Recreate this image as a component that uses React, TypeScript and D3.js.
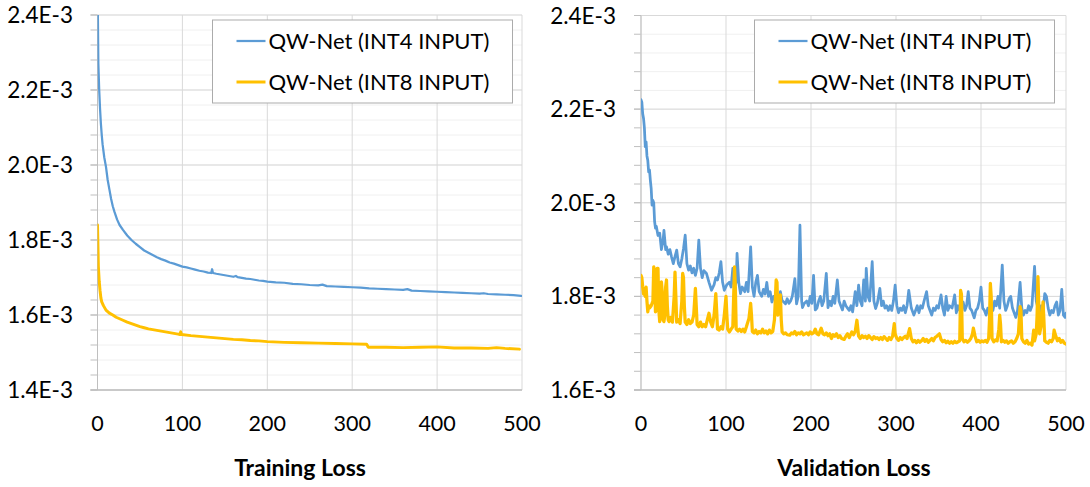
import React from 'react';
import * as d3 from 'd3';

// values are in units of 1E-3 as [epoch, loss]
const seriesNames = ['QW-Net (INT4 INPUT)', 'QW-Net (INT8 INPUT)'];
const seriesColors = ['#5B9BD5', '#FFC000'];
const xTicks = [0, 100, 200, 300, 400, 500];
const trainYTicks = [1.4, 1.6, 1.8, 2.0, 2.2, 2.4];
const valYTicks = [1.6, 1.8, 2.0, 2.2, 2.4];
const titles = ['Training Loss', 'Validation Loss'];

const trainInt4: [number, number][] = [
  [0, 2.5], [1, 2.27], [2, 2.2], [3, 2.15], [4, 2.11], [5, 2.08], [6, 2.055], [8, 2.02], [10, 1.995],
  [12, 1.96], [14, 1.935], [16, 1.91], [18, 1.89], [20, 1.875], [23, 1.855], [26, 1.84], [30, 1.827],
  [35, 1.812], [40, 1.8], [45, 1.79], [50, 1.781], [55, 1.772], [60, 1.766], [65, 1.76], [70, 1.754],
  [75, 1.749], [80, 1.745], [85, 1.74], [90, 1.737], [95, 1.733], [100, 1.729], [105, 1.727], [110, 1.724],
  [115, 1.721], [120, 1.718], [125, 1.716], [130, 1.713], [134, 1.712], [135, 1.722], [136, 1.712],
  [140, 1.71], [145, 1.708], [150, 1.706], [155, 1.704], [160, 1.702], [163, 1.704], [165, 1.701], [170, 1.699],
  [175, 1.697], [180, 1.696], [185, 1.694], [190, 1.692], [195, 1.691], [200, 1.689], [210, 1.687],
  [220, 1.686], [230, 1.683], [240, 1.682], [250, 1.68], [260, 1.679], [265, 1.681], [270, 1.677], [280, 1.676],
  [290, 1.675], [300, 1.674], [310, 1.673], [320, 1.671], [330, 1.67], [340, 1.669], [350, 1.668],
  [360, 1.667], [365, 1.669], [370, 1.665], [380, 1.664], [390, 1.663], [400, 1.662], [410, 1.661], [420, 1.66],
  [430, 1.659], [440, 1.658], [450, 1.657], [455, 1.658], [460, 1.656], [470, 1.655], [480, 1.654], [490, 1.653],
  [499, 1.651],
];

const trainInt8: [number, number][] = [
  [0, 1.84], [1, 1.73], [2, 1.69], [3, 1.665], [4, 1.645], [5, 1.635], [7, 1.625], [10, 1.613],
  [14, 1.605], [18, 1.6], [22, 1.594], [26, 1.59], [30, 1.586], [35, 1.581], [40, 1.577], [45, 1.573],
  [50, 1.569], [55, 1.566], [60, 1.563], [65, 1.561], [70, 1.559], [75, 1.557], [80, 1.555], [85, 1.553],
  [90, 1.551], [95, 1.549], [97, 1.548], [98, 1.555], [99, 1.548], [110, 1.545], [120, 1.543],
  [130, 1.541], [140, 1.539], [150, 1.537], [160, 1.535], [170, 1.534], [180, 1.532], [190, 1.531],
  [200, 1.529], [220, 1.527], [240, 1.526], [260, 1.525], [280, 1.524], [300, 1.523], [317, 1.522],
  [319, 1.514], [340, 1.514], [360, 1.513], [380, 1.514], [400, 1.515], [420, 1.512], [440, 1.512],
  [460, 1.511], [470, 1.513], [480, 1.511], [497, 1.509],
];

const valInt4: [number, number][] = [
  [0, 2.22], [1, 2.215], [2, 2.19], [3, 2.18], [4, 2.16], [5, 2.12], [6, 2.13], [7, 2.1], [8, 2.09],
  [9, 2.066], [10, 2.07], [11, 2.048], [12, 2.03], [13, 1.995], [14, 2.005], [15, 2.0], [16, 1.96],
  [17, 1.946], [18, 1.95], [20, 1.93], [22, 1.935], [24, 1.9], [26, 1.92], [27, 1.941], [29, 1.9],
  [30, 1.906], [32, 1.89], [34, 1.9], [36, 1.884], [38, 1.87], [40, 1.885], [42, 1.899], [44, 1.87],
  [46, 1.863], [48, 1.88], [50, 1.902], [52, 1.931], [54, 1.87], [56, 1.856], [58, 1.865], [60, 1.85],
  [62, 1.86], [64, 1.845], [66, 1.86], [68, 1.92], [70, 1.86], [72, 1.84], [74, 1.855], [77, 1.849],
  [80, 1.83], [83, 1.813], [86, 1.825], [88, 1.84], [90, 1.835], [92, 1.85], [94, 1.874], [96, 1.83],
  [98, 1.813], [101, 1.825], [104, 1.83], [106, 1.82], [108, 1.86], [110, 1.82], [112, 1.83],
  [113, 1.892], [115, 1.83], [117, 1.806], [119, 1.82], [122, 1.81], [124, 1.83], [126, 1.81],
  [129, 1.906], [131, 1.82], [133, 1.8], [135, 1.83], [137, 1.845], [139, 1.81], [142, 1.8],
  [144, 1.815], [146, 1.805], [148, 1.83], [150, 1.8], [152, 1.81], [154, 1.788], [156, 1.8],
  [158, 1.795], [160, 1.8], [162, 1.79], [164, 1.81], [166, 1.791], [168, 1.788], [170, 1.784],
  [172, 1.795], [174, 1.785], [176, 1.79], [178, 1.8], [181, 1.838], [183, 1.784], [185, 1.8],
  [187, 1.952], [189, 1.79], [190, 1.776], [192, 1.785], [195, 1.79], [197, 1.78], [199, 1.8],
  [201, 1.785], [203, 1.845], [205, 1.771], [207, 1.775], [209, 1.79], [211, 1.8], [213, 1.78],
  [215, 1.79], [218, 1.849], [220, 1.776], [222, 1.79], [224, 1.78], [226, 1.8], [228, 1.785],
  [231, 1.835], [233, 1.79], [235, 1.78], [237, 1.771], [239, 1.79], [241, 1.78], [243, 1.775],
  [245, 1.77], [247, 1.78], [249, 1.767], [252, 1.81], [254, 1.78], [256, 1.824], [258, 1.79],
  [260, 1.78], [262, 1.835], [264, 1.79], [265, 1.86], [267, 1.8], [269, 1.79], [272, 1.874],
  [274, 1.79], [276, 1.774], [278, 1.785], [281, 1.817], [283, 1.78], [285, 1.79], [287, 1.775],
  [289, 1.78], [291, 1.77], [293, 1.78], [295, 1.77], [297, 1.79], [299, 1.824], [301, 1.78],
  [303, 1.765], [305, 1.775], [307, 1.77], [309, 1.78], [311, 1.765], [313, 1.78], [315, 1.813],
  [318, 1.775], [321, 1.76], [323, 1.77], [325, 1.78], [327, 1.765], [329, 1.78], [331, 1.775],
  [333, 1.79], [336, 1.81], [338, 1.78], [340, 1.77], [342, 1.76], [344, 1.775], [346, 1.77],
  [348, 1.78], [350, 1.775], [353, 1.803], [355, 1.775], [357, 1.76], [359, 1.8], [361, 1.77],
  [363, 1.78], [366, 1.775], [369, 1.803], [371, 1.765], [373, 1.78], [375, 1.77], [377, 1.775],
  [379, 1.788], [381, 1.77], [383, 1.78], [385, 1.81], [387, 1.775], [389, 1.77], [392, 1.754],
  [394, 1.77], [396, 1.775], [398, 1.79], [400, 1.82], [402, 1.775], [404, 1.77], [406, 1.76],
  [408, 1.775], [410, 1.77], [412, 1.78], [414, 1.77], [416, 1.79], [418, 1.78], [420, 1.8],
  [422, 1.775], [425, 1.867], [427, 1.79], [429, 1.77], [431, 1.78], [433, 1.795], [435, 1.8],
  [437, 1.775], [439, 1.765], [441, 1.755], [443, 1.77], [446, 1.83], [448, 1.775], [450, 1.76],
  [452, 1.77], [454, 1.765], [456, 1.78], [458, 1.77], [460, 1.78], [463, 1.864], [465, 1.79],
  [467, 1.775], [469, 1.76], [471, 1.78], [473, 1.77], [475, 1.806], [477, 1.8], [479, 1.775],
  [481, 1.76], [483, 1.77], [485, 1.765], [487, 1.78], [489, 1.788], [491, 1.76], [493, 1.77],
  [495, 1.815], [497, 1.76], [499, 1.755], [500, 1.764],
];

const valInt8: [number, number][] = [
  [0, 1.845], [1, 1.84], [2, 1.82], [3, 1.805], [4, 1.81], [5, 1.8], [6, 1.82], [7, 1.79], [8, 1.767],
  [9, 1.78], [10, 1.775], [12, 1.78], [14, 1.79], [15, 1.863], [16, 1.85], [17, 1.767], [18, 1.77],
  [19, 1.86], [20, 1.86], [21, 1.77], [22, 1.746], [23, 1.76], [24, 1.831], [25, 1.81], [26, 1.75],
  [27, 1.746], [28, 1.76], [29, 1.82], [30, 1.835], [31, 1.78], [32, 1.75], [33, 1.746], [35, 1.755],
  [37, 1.745], [39, 1.8], [40, 1.852], [41, 1.8], [42, 1.745], [44, 1.75], [46, 1.742], [48, 1.79],
  [49, 1.849], [50, 1.84], [51, 1.78], [52, 1.745], [54, 1.74], [56, 1.75], [58, 1.742], [60, 1.745],
  [62, 1.76], [64, 1.817], [65, 1.78], [66, 1.74], [68, 1.735], [70, 1.745], [72, 1.735], [74, 1.74],
  [76, 1.735], [78, 1.75], [80, 1.764], [82, 1.745], [84, 1.735], [86, 1.76], [88, 1.806], [89, 1.77],
  [90, 1.73], [92, 1.728], [94, 1.735], [96, 1.73], [98, 1.76], [100, 1.8], [101, 1.76], [102, 1.73],
  [104, 1.724], [106, 1.73], [108, 1.735], [110, 1.863], [111, 1.82], [112, 1.73], [114, 1.726],
  [116, 1.73], [118, 1.725], [120, 1.73], [122, 1.724], [124, 1.735], [127, 1.753], [129, 1.785],
  [130, 1.76], [131, 1.725], [133, 1.722], [135, 1.728], [137, 1.72], [139, 1.725], [141, 1.722],
  [143, 1.73], [145, 1.722], [147, 1.726], [149, 1.72], [151, 1.728], [153, 1.722], [155, 1.725],
  [157, 1.75], [159, 1.835], [160, 1.83], [161, 1.76], [162, 1.78], [164, 1.803], [165, 1.75],
  [166, 1.724], [168, 1.72], [170, 1.722], [172, 1.718], [175, 1.717], [177, 1.722], [179, 1.72],
  [181, 1.725], [183, 1.718], [185, 1.722], [187, 1.72], [189, 1.724], [191, 1.718], [193, 1.72],
  [195, 1.722], [197, 1.718], [199, 1.724], [201, 1.72], [203, 1.722], [205, 1.73], [207, 1.72],
  [209, 1.718], [212, 1.732], [214, 1.72], [216, 1.718], [218, 1.722], [220, 1.716], [222, 1.72],
  [224, 1.71], [226, 1.718], [228, 1.715], [230, 1.72], [232, 1.712], [234, 1.716], [236, 1.71],
  [239, 1.708], [241, 1.715], [243, 1.72], [245, 1.712], [248, 1.724], [250, 1.718], [252, 1.725],
  [254, 1.749], [256, 1.715], [258, 1.71], [260, 1.716], [262, 1.712], [264, 1.715], [266, 1.71],
  [268, 1.716], [270, 1.712], [272, 1.708], [274, 1.714], [276, 1.71], [278, 1.712], [280, 1.708],
  [282, 1.712], [284, 1.708], [286, 1.714], [288, 1.71], [290, 1.706], [292, 1.712], [294, 1.708],
  [296, 1.715], [298, 1.742], [299, 1.72], [301, 1.71], [303, 1.706], [305, 1.712], [307, 1.708],
  [309, 1.712], [311, 1.715], [313, 1.71], [316, 1.731], [318, 1.71], [320, 1.703], [322, 1.706],
  [324, 1.701], [326, 1.706], [328, 1.702], [330, 1.705], [332, 1.71], [334, 1.704], [336, 1.708],
  [338, 1.702], [340, 1.706], [342, 1.71], [344, 1.705], [346, 1.712], [348, 1.715], [351, 1.72],
  [353, 1.708], [355, 1.703], [357, 1.706], [359, 1.701], [361, 1.704], [363, 1.7], [365, 1.703],
  [367, 1.7], [369, 1.704], [371, 1.701], [373, 1.703], [375, 1.705], [376, 1.813], [377, 1.805],
  [378, 1.71], [380, 1.703], [382, 1.706], [384, 1.702], [386, 1.705], [388, 1.71], [390, 1.72],
  [391, 1.732], [393, 1.715], [395, 1.703], [397, 1.706], [399, 1.702], [401, 1.705], [403, 1.703],
  [405, 1.706], [407, 1.702], [409, 1.71], [410, 1.75], [411, 1.828], [412, 1.8], [413, 1.71],
  [415, 1.703], [417, 1.707], [419, 1.705], [421, 1.73], [422, 1.76], [423, 1.74], [424, 1.703],
  [426, 1.706], [428, 1.702], [430, 1.705], [432, 1.7], [434, 1.703], [436, 1.705], [438, 1.7],
  [440, 1.703], [442, 1.71], [444, 1.72], [446, 1.778], [447, 1.77], [448, 1.71], [450, 1.703],
  [452, 1.7], [454, 1.706], [456, 1.698], [458, 1.7], [460, 1.696], [462, 1.728], [463, 1.705],
  [465, 1.72], [466, 1.76], [467, 1.842], [468, 1.78], [469, 1.72], [471, 1.74], [473, 1.788],
  [474, 1.75], [475, 1.705], [477, 1.702], [479, 1.7], [481, 1.706], [483, 1.703], [485, 1.71],
  [486, 1.728], [488, 1.715], [490, 1.705], [492, 1.71], [494, 1.702], [496, 1.706], [498, 1.7],
  [500, 1.698],
];

const FONT = 'Lato, "Open Sans", sans-serif';

function Legend({x, y, width, height}) {
  return (
    <g transform={`translate(${x}, ${y})`}>
      <rect x={0} y={0} width={width} height={height} fill="#fff" stroke="#ababab" strokeWidth={1}></rect>
      {seriesNames.map((name, i) => (
        <g key={`Legend_${i}`} transform={`translate(0, ${21 + i * 41})`}>
          <line x1={24} x2={53} y1={0} y2={0} stroke={seriesColors[i]} strokeWidth={i === 0 ? 2.25 : 3}></line>
          <text x={56} y={7.5} fontFamily={FONT} fontSize={22} fill="#000">{name}</text>
        </g>
      ))}
    </g>
  );
}

function LossChart({id, left, right, top, bottom, yTicks, series, title, titleX, labelRight, legendX, lineWidths}) {
  const yMin = yTicks[0];
  const yMax = yTicks[yTicks.length - 1];

  const scaleX = d3.scaleLinear().domain([0, 500]).range([left, right]);
  const scaleY = d3.scaleLinear().domain([yMin, yMax]).range([bottom, top]);

  // minor gridlines every 0.04E-3
  const minorTicks = d3.range(0, Math.round((yMax - yMin) / 0.04) + 1).map((k) => yMin + k * 0.04);

  const line = d3.line<[number, number]>()
    .x((d) => scaleX(d[0]))
    .y((d) => scaleY(d[1]))
    .curve(d3.curveLinear);

  return (
    <g>
      <defs>
        <clipPath id={`clip_${id}`}>
          <rect x={left} y={top} width={right - left} height={bottom - top}></rect>
        </clipPath>
      </defs>
      {minorTicks.map((v, i) => (
        <g key={`Minor_${i}`}>
          <line x1={left} x2={right} y1={scaleY(v)} y2={scaleY(v)} stroke="#f0f0f0" strokeWidth={1}></line>
          <line x1={left - 7} x2={left} y1={scaleY(v)} y2={scaleY(v)} stroke="#bfbfbf" strokeWidth={1}></line>
        </g>
      ))}
      {yTicks.map((v, i) => (
        <line key={`GridY_${i}`} x1={left} x2={right} y1={scaleY(v)} y2={scaleY(v)} stroke="#d9d9d9" strokeWidth={1}></line>
      ))}
      {xTicks.map((v, i) => (
        <line key={`GridX_${i}`} x1={scaleX(v)} x2={scaleX(v)} y1={top} y2={bottom} stroke="#d9d9d9" strokeWidth={1}></line>
      ))}
      <line x1={left} x2={left} y1={top} y2={bottom} stroke="#bfbfbf" strokeWidth={1}></line>
      <line x1={left - 7} x2={right} y1={bottom} y2={bottom} stroke="#bfbfbf" strokeWidth={1.5}></line>
      {yTicks.map((v, i) => (
        <g key={`TickY_${i}`}>
          <line x1={left - 7} x2={left} y1={scaleY(v)} y2={scaleY(v)} stroke="#bfbfbf" strokeWidth={1}></line>
          <text x={labelRight} y={scaleY(v) + 8} textAnchor="end" fontFamily={FONT} fontSize={22.5} fill="#000">
            {`${v.toFixed(1)}E-3`}
          </text>
        </g>
      ))}
      {xTicks.map((v, i) => (
        <text key={`TickX_${i}`} x={scaleX(v)} y={bottom + 41} textAnchor="middle" fontFamily={FONT} fontSize={21.5} fill="#000">{v}</text>
      ))}
      <g clipPath={`url(#clip_${id})`}>
        {series.map((d, i) => (
          <path key={`Line_${i}`} d={line(d) || ''} fill="none" stroke={seriesColors[i]} strokeWidth={lineWidths[i]}
            strokeLinejoin="round" strokeLinecap="round"></path>
        ))}
      </g>
      <Legend x={legendX} y={20} width={300} height={83} />
      <text x={titleX} y={476} textAnchor="middle" fontFamily={FONT} fontSize={23} fontWeight="bold" fill="#000">{title}</text>
    </g>
  );
}

export default function App() {
  return (
    <svg width={1090} height={487} xmlns="http://www.w3.org/2000/svg"
      style={{position: 'absolute', left: 0, top: 0, background: '#fff'}}>
      <rect x={0} y={0} width={1090} height={487} fill="#fff"></rect>
      <LossChart id="train" left={97.5} right={522} top={15} bottom={390} yTicks={trainYTicks}
        series={[trainInt4, trainInt8]} title={titles[0]} titleX={300} labelRight={73} legendX={212.5} lineWidths={[2.25, 3]} />
      <LossChart id="val" left={641} right={1066} top={15.5} bottom={390} yTicks={valYTicks}
        series={[valInt4, valInt8]} title={titles[1]} titleX={854} labelRight={616} legendX={754.5} lineWidths={[2.75, 3.25]} />
    </svg>
  );
}
